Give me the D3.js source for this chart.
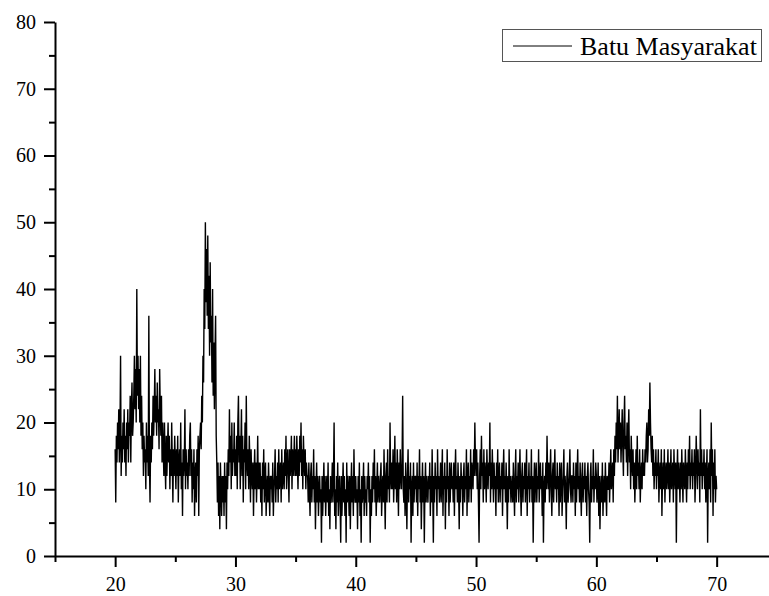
<!DOCTYPE html>
<html><head><meta charset="utf-8">
<script src="https://cdn.jsdelivr.net/npm/d3@7"></script>
<style>body{margin:0;background:#fff}svg{display:block}
.t{font-family:"Liberation Serif","Times New Roman","DejaVu Serif","Noto Serif",serif;}</style>
</head><body>
<svg id="c" width="769" height="596"></svg>
<script>
const seriesName = "Batu Masyarakat";
const thetaStart = 20, thetaStep = 0.05;
const intensity = [
 16,8,18,14,20,16,22,14,18,30, 12,18,14,20,16,22,14,18,12,20,
 16,22,14,20,18,24,14,22,26,18, 20,24,30,22,28,20,40,24,30,22,
 28,20,30,18,24,16,20,12,18,14, 16,10,20,14,18,12,36,14,8,18,
 14,20,16,24,18,22,28,20,24,18, 26,20,22,16,28,22,18,24,14,20,
 16,12,20,14,10,18,12,16,20,14, 18,10,16,12,20,14,8,16,12,18,
 14,10,16,12,18,8,14,16,12,20, 10,14,6,16,12,14,22,10,16,12,
 14,10,16,12,18,20,12,16,8,14, 10,16,6,12,14,8,16,12,18,6,
 16,18,20,16,24,20,30,26,40,34, 50,38,46,36,48,34,42,30,44,32,
 36,26,40,24,32,22,30,36,18,14, 8,14,6,12,4,14,10,6,12,8,
 12,6,14,8,12,4,14,10,16,12, 22,14,18,10,20,12,16,14,20,12,
 16,12,18,10,20,24,14,18,10,16, 22,12,18,8,16,14,20,10,24,14,
 12,16,10,18,14,8,16,12,10,14, 6,12,16,10,14,8,12,18,10,14,
 10,14,8,12,6,14,10,16,8,12, 14,6,10,12,8,14,10,6,12,10,
 12,8,14,6,10,12,16,8,12,10, 14,8,16,10,12,14,8,16,10,12,
 14,10,16,12,18,10,14,16,12,8, 16,12,14,18,10,16,12,14,18,12,
 16,12,18,14,10,16,12,18,14,20, 12,16,10,18,14,12,16,10,14,12,
 12,8,14,10,6,12,14,8,12,10, 16,8,12,4,10,14,8,12,6,10,
 12,8,10,2,12,6,10,14,8,12, 6,10,12,8,14,6,10,4,12,8,
 10,14,8,12,20,6,10,4,12,8, 14,6,10,12,8,2,12,6,10,14,
 8,12,6,10,2,14,8,12,10,6, 12,4,10,14,8,12,6,16,10,8,
 12,8,10,4,12,8,14,6,10,2, 12,8,10,14,6,12,8,10,6,12,
 10,14,8,12,2,10,6,12,8,14, 10,16,8,12,6,10,14,8,12,10,
 8,12,14,6,10,12,8,16,10,4, 12,14,8,16,10,12,8,20,12,10,
 14,10,16,8,12,18,10,14,8,16, 12,6,14,10,16,12,10,14,24,10,
 8,12,6,14,10,4,12,16,8,12, 10,14,2,10,12,6,14,8,12,10,
 12,8,14,6,12,10,16,8,12,4, 10,14,8,12,2,10,14,8,12,10,
 8,12,10,14,6,12,8,16,10,2, 12,8,14,10,12,6,16,10,12,8,
 10,14,8,12,16,6,12,10,14,4, 12,8,16,10,12,6,14,8,12,14,
 10,12,8,14,6,12,16,10,12,8, 14,10,4,12,8,14,10,12,6,12,
 14,8,12,10,16,6,12,14,8,12, 10,16,8,14,12,10,16,12,20,14,
 12,16,10,14,8,2,12,16,10,18, 12,14,8,16,10,14,12,8,16,12,
 10,14,12,20,8,14,10,16,12,8, 14,10,12,6,14,10,16,8,12,14,
 8,12,10,14,6,12,16,10,12,8, 14,10,4,12,8,16,10,12,8,10,
 12,8,14,10,6,12,16,8,12,10, 14,8,12,16,10,6,12,14,8,12,
 10,14,8,12,16,6,12,10,14,8, 12,10,16,8,12,2,10,14,8,12,
 14,8,12,10,16,8,12,14,10,12, 6,14,2,10,12,8,14,10,18,12,
 10,14,8,12,16,10,6,12,14,8, 12,16,10,12,8,14,10,12,6,14,
 8,12,14,6,10,12,16,8,12,10, 4,12,14,8,10,12,16,10,8,12,
 12,8,14,10,12,6,14,8,12,16, 10,12,8,14,10,6,12,14,8,12,
 10,14,8,12,6,12,14,10,8,2, 12,14,8,12,10,16,8,12,10,14,
 12,8,10,14,6,12,4,10,12,8, 14,6,10,12,8,14,10,6,12,10,
 10,14,8,12,16,10,12,14,8,16, 12,18,14,20,16,24,14,18,22,16,
 20,14,18,22,16,12,20,24,16,18, 14,20,12,18,22,14,16,10,18,14,
 12,16,10,14,8,12,16,10,18,12, 14,10,16,8,12,14,10,16,12,14,
 12,16,14,18,20,14,16,22,18,26, 20,16,14,18,12,16,10,14,12,16,
 10,14,12,16,8,12,14,10,16,6, 12,14,10,16,8,12,14,10,12,16,
 10,14,8,12,16,10,12,14,8,16, 12,10,14,2,12,16,10,14,12,8,
 14,10,16,12,8,14,12,10,16,12, 8,14,10,16,12,18,10,14,12,16,
 10,14,12,16,8,12,18,14,10,16, 12,14,8,22,12,16,10,14,12,16,
 10,14,8,12,16,2,12,14,10,16, 8,20,12,16,6,14,10,16,8,12,
 10
];
const xMajorTicks = [20, 30, 40, 50, 60, 70];
const xMinorTicks = [15, 25, 35, 45, 55, 65, 75];
const yMajorTicks = [0, 10, 20, 30, 40, 50, 60, 70, 80];
const yMinorTicks = [5, 15, 25, 35, 45, 55, 65, 75];

const svg = d3.select("#c");
const x = d3.scaleLinear().domain([15, 75]).range([55, 776.8]);
const y = d3.scaleLinear().domain([0, 80]).range([556, 22]);

const data = intensity.map((v, i) => ({t: thetaStart + i * thetaStep, v}));

svg.append("path")
  .datum(data)
  .attr("fill", "none")
  .attr("stroke", "#000")
  .attr("stroke-width", 1.4)
  .attr("stroke-linejoin", "miter")
  .attr("d", d3.line().x(d => x(d.t)).y(d => y(d.v)));

function styleAxis(g) {
  g.attr("font-family", null);
  g.selectAll("path.domain").attr("stroke-width", 2).attr("stroke", "#000");
  g.selectAll(".tick line").attr("stroke-width", 2).attr("stroke", "#000");
  g.selectAll("text").attr("class", "t").attr("font-size", 20).attr("fill", "#000");
}

svg.append("g").attr("transform", "translate(0,556)")
  .call(d3.axisBottom(x).tickValues(xMinorTicks).tickSize(6).tickSizeOuter(0).tickFormat(""))
  .call(g => g.select(".domain").remove())
  .call(styleAxis);
svg.append("g").attr("transform", "translate(55,0)")
  .call(d3.axisLeft(y).tickValues(yMinorTicks).tickSize(6).tickSizeOuter(0).tickFormat(""))
  .call(g => g.select(".domain").remove())
  .call(styleAxis);

svg.append("g").attr("transform", "translate(0,556)")
  .call(d3.axisBottom(x).tickValues(xMajorTicks).tickSize(11).tickSizeOuter(0).tickPadding(10).tickFormat(d3.format("d")))
  .call(styleAxis);
svg.append("g").attr("transform", "translate(55,0)")
  .call(d3.axisLeft(y).tickValues(yMajorTicks).tickSize(11).tickSizeOuter(0).tickPadding(8).tickFormat(d3.format("d")))
  .call(styleAxis);

// legend
const lg = svg.append("g");
lg.append("rect").attr("x", 502.5).attr("y", 29.5).attr("width", 259).attr("height", 32)
  .attr("fill", "#fff").attr("stroke", "#555").attr("stroke-width", 1);
lg.append("line").attr("x1", 513).attr("x2", 572).attr("y1", 46).attr("y2", 46)
  .attr("stroke", "#000").attr("stroke-width", 1);
lg.append("text").attr("class", "t").attr("x", 580).attr("y", 55).text(seriesName)
  .attr("font-size", 26).attr("fill", "#000");
</script>
</body></html>
